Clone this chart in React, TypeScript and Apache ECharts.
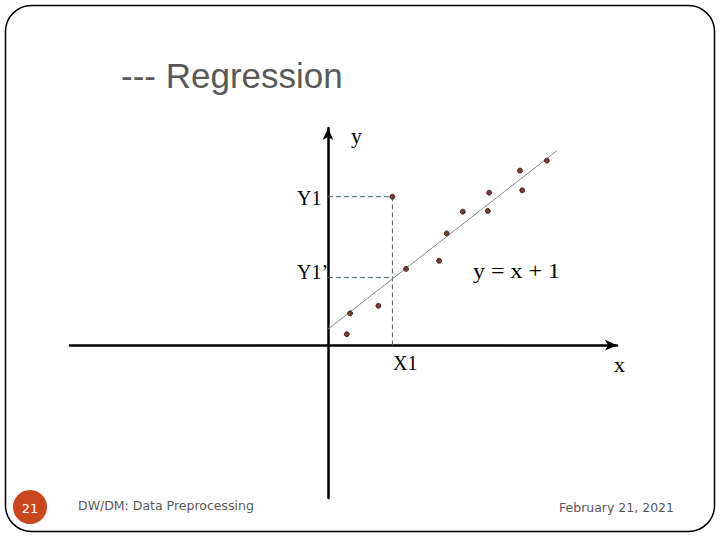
import React, { useEffect, useRef } from "react";
import * as echarts from "echarts";

// Observed sample points (data units: regression y = x + 1)
const pointsX = [0.91, 1.07, 2.44, 3.12, 3.78, 5.38, 5.75, 6.53, 7.74, 7.81, 9.3, 9.41, 10.6];
const pointsY = [0.68, 1.98, 2.45, 9.23, 4.74, 5.25, 6.95, 8.3, 8.34, 9.48, 10.85, 9.63, 11.47];

// Regression line end points
const regressionX = [0, 11.1];
const regressionY = [1, 12.1];

// Guide values
const x1Value = 3.12;
const y1Value = 9.23;
const y1HatValue = 4.2;

// Axis extents
const xMin = -12.5;
const xMax = 14.0;
const yMin = -9.5;
const yMax = 13.5;

const serif = "'Liberation Serif', 'DejaVu Serif', serif";
const sans = "'Liberation Sans', Arial, sans-serif";
const footerFont = "'DejaVu Sans', Verdana, sans-serif";

export default function App() {
  const ref = useRef<HTMLDivElement>(null);
  useEffect(() => {
    const chart = echarts.init(ref.current!, null, { renderer: "svg" });
    const guideStyle = { color: "#3f6b75", width: 1, type: [5, 3] as any };
    chart.setOption({
      animation: false,
      backgroundColor: "#ffffff",
      grid: { left: 70, right: 103, top: 128, bottom: 42 },
      xAxis: {
        type: "value",
        min: xMin,
        max: xMax,
        splitLine: { show: false },
        axisTick: { show: false },
        axisLabel: { show: false },
        axisLine: {
          show: true,
          onZero: true,
          symbol: ["none", "arrow"],
          symbolSize: [8, 12],
          lineStyle: { color: "#000", width: 2.5 },
        },
      },
      yAxis: {
        type: "value",
        min: yMin,
        max: yMax,
        splitLine: { show: false },
        axisTick: { show: false },
        axisLabel: { show: false },
        axisLine: {
          show: true,
          onZero: true,
          symbol: ["none", "arrow"],
          symbolSize: [8, 12],
          lineStyle: { color: "#000", width: 2.5 },
        },
      },
      series: [
        {
          type: "line",
          data: regressionX.map((x, i) => [x, regressionY[i]]),
          symbol: "none",
          lineStyle: { color: "#8a8a8a", width: 1 },
          z: 2,
        },
        {
          type: "line",
          data: [
            [0, y1Value],
            [x1Value, y1Value],
            [x1Value, 0],
          ],
          symbol: "none",
          lineStyle: guideStyle,
          z: 1,
        },
        {
          type: "line",
          data: [
            [0, y1HatValue],
            [x1Value, y1HatValue],
          ],
          symbol: "none",
          lineStyle: guideStyle,
          z: 1,
        },
        {
          type: "scatter",
          data: pointsX.map((x, i) => [x, pointsY[i]]),
          symbol: "circle",
          symbolSize: 5,
          itemStyle: { color: "#7a3b30", borderColor: "#2a1a18", borderWidth: 0.8, opacity: 1 },
          z: 5,
        },
      ],
      graphic: [
        {
          type: "rect",
          shape: { x: 5.5, y: 5.5, width: 709, height: 526, r: 26 },
          style: { fill: "none", stroke: "#000", lineWidth: 1.5 },
          silent: true,
        },
        {
          type: "text",
          x: 121,
          y: 75,
          style: { text: "--- Regression", font: `35px ${sans}`, fill: "#595959", textVerticalAlign: "middle" },
        },
        {
          type: "text",
          x: 351,
          y: 135,
          style: { text: "y", font: `22px ${serif}`, fill: "#000", textVerticalAlign: "middle" },
        },
        {
          type: "text",
          x: 297,
          y: 198,
          style: { text: "Y1", font: `20px ${serif}`, fill: "#000", textVerticalAlign: "middle" },
        },
        {
          type: "text",
          x: 297,
          y: 272,
          style: { text: "Y1\u2019", font: `20px ${serif}`, fill: "#000", textVerticalAlign: "middle" },
        },
        {
          type: "text",
          x: 473,
          y: 271,
          scaleX: 1.2,
          style: { text: "y = x + 1", font: `20px ${serif}`, fill: "#000", textVerticalAlign: "middle" },
        },
        {
          type: "text",
          x: 393,
          y: 363,
          style: { text: "X1", font: `20px ${serif}`, fill: "#000", textVerticalAlign: "middle" },
        },
        {
          type: "text",
          x: 614,
          y: 364,
          style: { text: "x", font: `22px ${serif}`, fill: "#000", textVerticalAlign: "middle" },
        },
        {
          type: "circle",
          shape: { cx: 30, cy: 507, r: 17 },
          style: { fill: "#c8471f" },
        },
        {
          type: "text",
          x: 30,
          y: 508,
          style: { text: "21", font: `13px ${footerFont}`, fill: "#fff", textAlign: "center", textVerticalAlign: "middle" },
        },
        {
          type: "text",
          x: 78,
          y: 505,
          style: { text: "DW/DM: Data Preprocessing", font: `12.5px ${footerFont}`, fill: "#595959", textVerticalAlign: "middle" },
        },
        {
          type: "text",
          x: 559,
          y: 507,
          style: { text: "February 21, 2021", font: `12.5px ${footerFont}`, fill: "#595959", textVerticalAlign: "middle" },
        },
      ],
    });
    return () => chart.dispose();
  }, []);
  return (
    <div
      ref={ref}
      style={{ position: "absolute", left: 0, top: 0, width: 720, height: 540, background: "#fff" }}
    />
  );
}
